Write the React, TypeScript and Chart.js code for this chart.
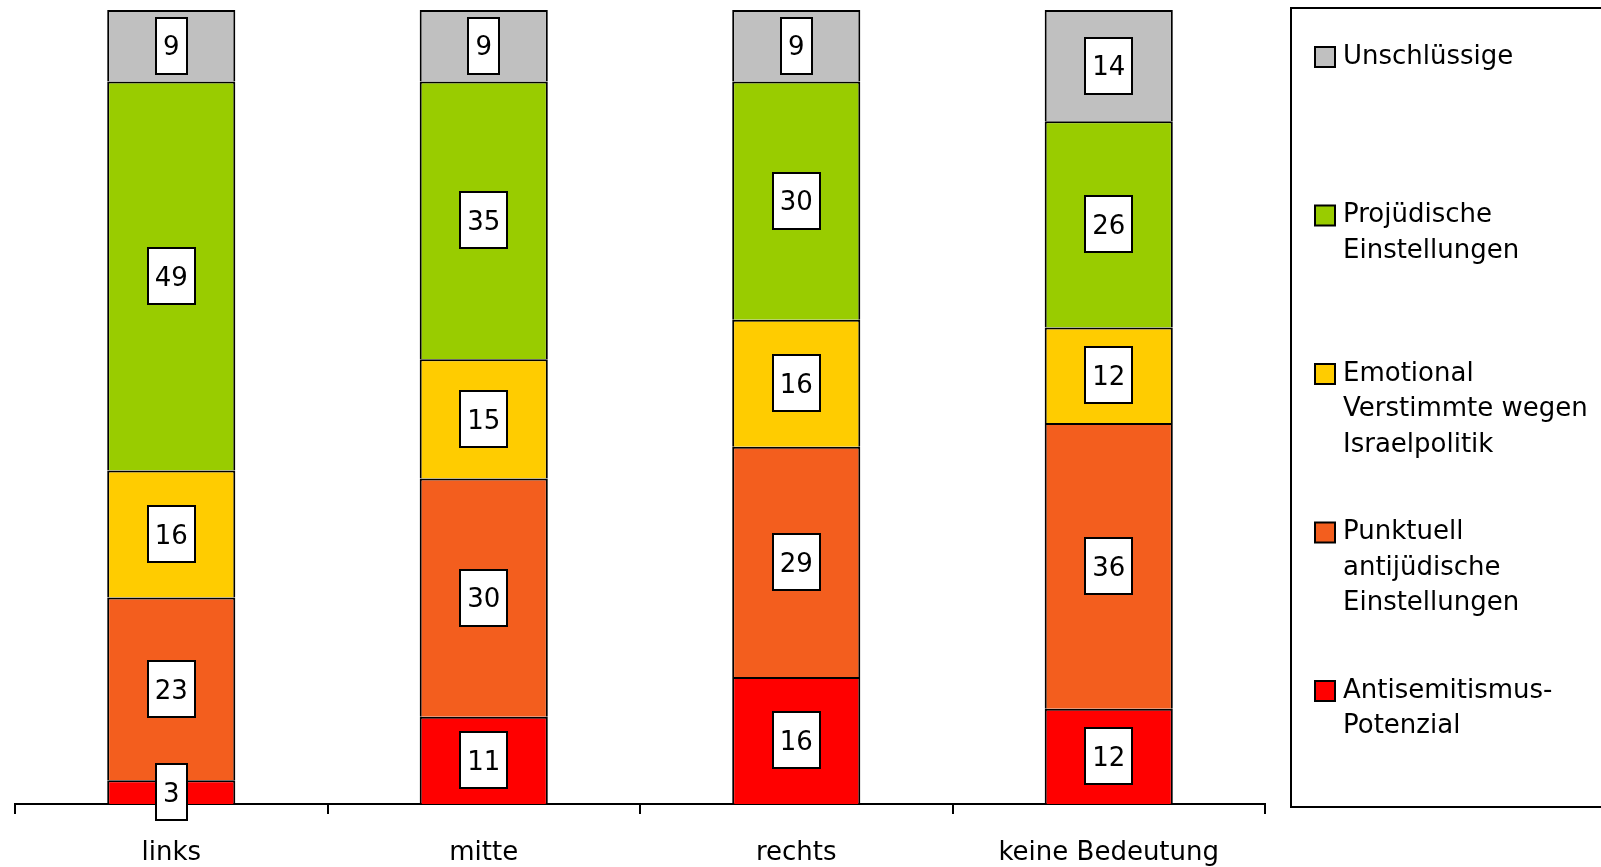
import React, { useEffect, useRef } from "react";
import { Chart, registerables } from "chart.js";

Chart.register(...registerables);

const FONT = "'DejaVu Sans', Verdana, sans-serif";

const categories = ["links", "mitte", "rechts", "keine Bedeutung"];

// bottom to top
const seriesNames: string[][] = [
  ["Antisemitismus-", "Potenzial"],
  ["Punktuell", "antijüdische", "Einstellungen"],
  ["Emotional", "Verstimmte wegen", "Israelpolitik"],
  ["Projüdische", "Einstellungen"],
  ["Unschlüssige"],
];
const antisemitismus = [3, 11, 16, 12];
const punktuell = [23, 30, 29, 36];
const emotional = [16, 15, 16, 12];
const projuedisch = [49, 35, 30, 26];
const unschluessig = [9, 9, 9, 14];
const seriesColors = ["#FF0000", "#F35E1E", "#FFCC00", "#99CC00", "#C0C0C0"];
const seriesValues = [antisemitismus, punktuell, emotional, projuedisch, unschluessig];
const yMax = 100;

const boxLabels = {
  id: "boxLabels",
  afterDraw(chart: any) {
    const ctx = chart.ctx;
    ctx.save();
    ctx.font = `26px ${FONT}`;
    ctx.textAlign = "center";
    ctx.textBaseline = "middle";
    chart.data.datasets.forEach((ds: any, di: number) => {
      const meta = chart.getDatasetMeta(di);
      meta.data.forEach((el: any, i: number) => {
        const v = ds.data[i];
        const p = el.getProps(["x", "y", "base"], true);
        const cy = (p.y + p.base) / 2;
        const text = String(v);
        const w = Math.round(ctx.measureText(text).width + 14);
        const h = 56;
        const x0 = Math.round(p.x - w / 2);
        const y0 = Math.round(cy - h / 2);
        ctx.fillStyle = "#FFFFFF";
        ctx.fillRect(x0, y0, w, h);
        ctx.lineWidth = 2;
        ctx.strokeStyle = "#000000";
        ctx.strokeRect(x0, y0, w, h);
        ctx.fillStyle = "#000000";
        ctx.fillText(text, p.x, cy + 3);
      });
    });
    ctx.restore();
  },
};

const sideLegend = {
  id: "sideLegend",
  afterDraw(chart: any) {
    const ctx = chart.ctx;
    ctx.save();
    ctx.lineWidth = 2;
    ctx.strokeStyle = "#000000";
    ctx.strokeRect(1291, 8, 340, 799);
    ctx.font = `26px ${FONT}`;
    ctx.textAlign = "left";
    ctx.textBaseline = "middle";
    const n = chart.data.datasets.length;
    for (let k = 0; k < n; k++) {
      const di = n - 1 - k;
      const ds = chart.data.datasets[di];
      const yStart = 57 + k * 158.5;
      ctx.fillStyle = ds.backgroundColor;
      ctx.fillRect(1315, yStart - 10, 20, 20);
      ctx.strokeStyle = "#000000";
      ctx.lineWidth = 2;
      ctx.strokeRect(1315, yStart - 10, 20, 20);
      ctx.fillStyle = "#000000";
      const lines: string[] = seriesNames[di];
      lines.forEach((ln, li) => {
        ctx.fillText(ln, 1343, yStart + li * 35.5);
      });
    }
    ctx.restore();
  },
};

export default function App() {
  const ref = useRef<HTMLCanvasElement | null>(null);
  useEffect(() => {
    if (!ref.current) return;
    const chart = new Chart(ref.current, {
      type: "bar",
      data: {
        labels: categories,
        datasets: seriesValues.map((vals, i) => ({
          label: seriesNames[i].join(" "),
          data: vals,
          backgroundColor: seriesColors[i],
          borderColor: "#000000",
          borderWidth: 2,
          barPercentage: 0.41,
          categoryPercentage: 1,
        })),
      },
      options: {
        responsive: false,
        animation: false,
        layout: { padding: { left: 15, right: 336, top: 10, bottom: 0 } },
        plugins: { legend: { display: false }, tooltip: { enabled: false } },
        scales: {
          x: {
            stacked: true,
            grid: {
              display: true,
              drawOnChartArea: false,
              drawTicks: true,
              tickLength: 10,
              color: "#000000",
              lineWidth: 2,
              offset: true,
            },
            border: { display: true, color: "#000000", width: 2 },
            ticks: { font: { family: FONT, size: 26 }, color: "#000000", padding: 24 },
            afterFit: (s: any) => {
              s.height = 63;
            },
          },
          y: { stacked: true, display: false, min: 0, max: yMax },
        },
      },
      plugins: [boxLabels, sideLegend],
    });
    return () => chart.destroy();
  }, []);
  return (
    <div style={{ position: "absolute", left: 0, top: 0, width: 1601, height: 867 }}>
      <canvas ref={ref} width={1601} height={867} />
    </div>
  );
}
